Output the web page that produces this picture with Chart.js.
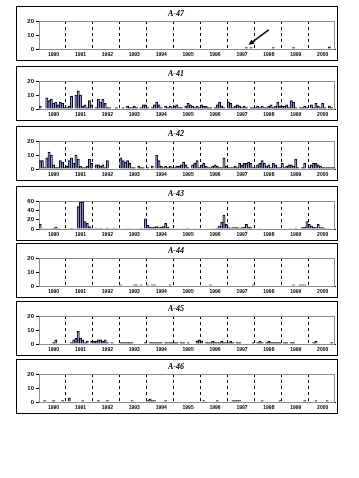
<!DOCTYPE html>
<html>
<head>
<meta charset="utf-8">
<script src="https://cdn.jsdelivr.net/npm/chart.js@4.4.1/dist/chart.umd.min.js"></script>
<style>
  body { margin: 0; background: #fff; width: 359px; height: 478px; position: relative; overflow: hidden; }
  .box { position: absolute; left: 16px; width: 322px; height: 55px; border: 1px solid #000; box-sizing: border-box; }
</style>
</head>
<body>
<div class="box" style="top:6px"><canvas id="c0"></canvas></div>
<div class="box" style="top:66px"><canvas id="c1"></canvas></div>
<div class="box" style="top:126px"><canvas id="c2"></canvas></div>
<div class="box" style="top:186px"><canvas id="c3"></canvas></div>
<div class="box" style="top:243px"><canvas id="c4"></canvas></div>
<div class="box" style="top:301px"><canvas id="c5"></canvas></div>
<div class="box" style="top:359px"><canvas id="c6"></canvas></div>
<script>
// one value per month, one row per year
const years = ['1990', '1991', '1992', '1993', '1994', '1995', '1996', '1997', '1998', '1999', '2000'];

const a47 = [
  0,0,0,0,0,0,0,0,0,0,0,0,
  0,0,0,0,0,0,0,0,0,0,0,0,
  0,0,0,0,0,0,0,0,0,0,0,0,
  0,0,0,0,0,0,0,0,0,0,0,0,
  0,0,0,0,0,0,0,0,0,0,0,0,
  0,0,0,0,0,0,0,0,0,0,0,0,
  0,0,0,0,0,0,0,0,0,0,0,0,
  0,0,0,0,0,0,0,0,1,0,1,0,
  0,0,0,0,0,0,0,0,1,0,0,0,
  0,0,0,0,0,1,0,0,0,0,0,0,
  0,0,0,0,0,0,0,0,0,1.5,0,0
];
const a41 = [
  2,0,0,8,6,7,4,5,3,5,4,1,
  1,2,9,0,10,13,10,2,3,1,6,3,
  0,1,7,5,7,4,1,1,0,0,1,0,
  0,1,0,2,1,1,2,1,0,1,3,3,
  1,0,1,3,5,3,1,0,2,1,2,1,
  2,3,1,1,0,2,4,3,2,1,2,1,
  3,2,2,1,1,0,1,3,5,2,1,0,
  5,4,1,2,3,2,1,2,1,0,1,1,
  1,2,1,2,1,1,2,3,1,2,5,2,
  2,2,3,1,6,5,1,0,1,1,2,1,
  0,3,1,4,2,1,4,1,0,2,1,0
];
const a42 = [
  6,6,1,8,12,10,3,1,1,6,5,1,
  2,6,8,4,10,7,2,1,1,2,7,4,
  0,3,3,2,3,1,6,0,0,0,0,0,
  8,6,5,6,4,1,1,0,2,1,1,0,
  1,0,2,0,10,6,2,1,2,1,2,1,
  1,2,2,3,5,3,1,0,3,4,6,1,
  3,4,2,1,1,2,3,2,1,1,8,2,
  1,1,1,2,1,4,3,4,4,5,4,1,
  1,3,4,6,4,2,3,1,4,3,1,1,
  4,1,2,3,3,2,7,1,0,1,4,0,
  1,3,4,4,3,2,1,1,1,1,1,1
];
const a43 = [
  10,1,1,1,1,1,2,4,2,1,0,0,
  1,1,2,1,1,48,57,58,16,12,5,2,
  1,2,1,2,1,1,2,1,1,2,1,1,
  0,0,1,1,1,1,0,1,0,2,1,22,
  8,4,3,4,5,3,4,5,12,4,1,1,
  0,1,0,0,1,1,2,0,0,1,0,1,
  0,0,0,0,0,1,1,2,6,15,30,10,
  3,2,3,3,3,2,3,4,10,4,3,1,
  0,0,1,0,0,0,0,0,0,0,0,0,
  0,0,0,1,1,0,2,0,1,3,4,16,
  10,6,4,3,10,3,3,2,1,1,0,0
];
const a44 = [
  0,0,0,0,0,0,0,0,0,0,0,0,
  0,0,0,0,0,0,0,0,0,0,0,0,
  0,0,0,0,0,0,0,0,0,0,0,0,
  0.8,0,0,0,0,0,0.8,0.8,0,0.8,0,0,
  0.8,0,0.8,0.8,0,0,0,0,0,0,0.8,0,
  0,0,0,0,0,0,0,0,0,0,0,0,
  0,0,0,0,0.8,0,0,0,0,0,0,0,
  0,0,0,0,0,0,0,0,0,0,0,0.8,
  0,0,0,0,0,0,0,0,0,0,0,0,
  0,0,0,0,0,0.8,0,0,0.8,0.8,0.8,0,
  0,0,0,0,0,0,0,0,0,0,0,0
];
const a45 = [
  0,0,0,0,0,0,1,3,0,0,0,0,
  0,0,1,3,4,9,4,3,1,2,0,2,
  2,2,3,3,2,3,1,0,1,0,0,0,
  1,1,1,1,1,1,0,0,0,0,0,1,
  0,1,1,1,1,1,1,0,1,1,1,1,
  1,1,0,1,1,0,1,0,0,0,2,3,
  2,0,1,1,1,2,1,1,1,2,1,1,
  1,2,1,0,1,1,0,0,0,0,0,1,
  0,1,2,1,0,1,2,1,1,1,1,1,
  0,1,1,0,1,1,0,0,0,0,0,0,
  0,0,1,2,0,0,0,0,0,0,1,0
];
const a46 = [
  0,0,1,0,0,0,1,0,0,0,1,0,
  0,3,0,0,0,0,0,1,0,0,0,0,
  0,0,1,0,0,0,1,0,0,0,0,0,
  0,0,0,0,0,1,0,0,0,0,0,0,
  1,2,1,1,0,0,0,0,1,0,0,0,
  0,0,0,0,0,0,0,0,0,0,0,0,
  0,1,0,0,0,0,0,1,0,0,0,0,
  0,0,1,1,1,1,0,0,0,0,0,0,
  0,0,0,1,0,0,0,0,0,0,0,1,
  0,0,0,0,0,0,0,0,0,0,1,0,
  0,0,0,1,0,0,0,0,1,0,0,0
];

const months = [];
years.forEach(y => { for (let m = 1; m <= 12; m++) months.push(y + '-' + m); });

// gray plot frame
const framePlugin = {
  id: 'frame',
  beforeDatasetsDraw(chart) {
    const { ctx, chartArea: a } = chart;
    ctx.save();
    ctx.strokeStyle = '#8c8c8c';
    ctx.lineWidth = 1;
    ctx.strokeRect(a.left + 0.5, a.top + 0.5, a.right - a.left - 1, a.bottom - a.top);
    ctx.restore();
  }
};

// arrow pointing at a bar
const arrowPlugin = {
  id: 'arrow',
  afterDatasetsDraw(chart, args, opts) {
    if (opts.index == null) return;
    const { ctx, scales: { x, y } } = chart;
    const tx = x.getPixelForValue(opts.index), ty = y.getPixelForValue(opts.value);
    const sx = tx + 20, sy = ty - 15;
    const ang = Math.atan2(ty - sy, tx - sx);
    ctx.save();
    ctx.strokeStyle = '#000';
    ctx.fillStyle = '#000';
    ctx.lineWidth = 1.5;
    ctx.beginPath();
    ctx.moveTo(sx, sy);
    ctx.lineTo(tx - 3 * Math.cos(ang), ty - 3 * Math.sin(ang));
    ctx.stroke();
    ctx.beginPath();
    ctx.moveTo(tx, ty);
    ctx.lineTo(tx - 6 * Math.cos(ang - 0.45), ty - 6 * Math.sin(ang - 0.45));
    ctx.lineTo(tx - 6 * Math.cos(ang + 0.45), ty - 6 * Math.sin(ang + 0.45));
    ctx.closePath();
    ctx.fill();
    ctx.restore();
  }
};

const makePanel = (id, title, values, yMax, yStep, arrow) => {
  new Chart(document.getElementById(id), {
    type: 'bar',
    data: {
      labels: months,
      datasets: [{
        data: values,
        backgroundColor: '#9999ff',
        borderColor: '#000',
        borderWidth: 1,
        borderSkipped: 'start',
        barPercentage: 1,
        categoryPercentage: 1
      }]
    },
    options: {
      responsive: true,
      maintainAspectRatio: false,
      animation: false,
      layout: { padding: { left: 0, right: 2, top: 0, bottom: 0 } },
      plugins: {
        legend: { display: false },
        tooltip: { enabled: false },
        title: {
          display: true,
          text: title,
          color: '#000',
          font: { family: 'Liberation Serif', size: 8, weight: 'bold', style: 'italic', lineHeight: 1 },
          padding: { top: 3, bottom: 3 }
        },
        arrow: arrow || {}
      },
      scales: {
        x: {
          grid: {
            offset: true,
            drawTicks: false,
            lineWidth: 1,
            color: ctx => (ctx.index > 0 && ctx.index % 12 === 0) ? '#000' : 'rgba(0,0,0,0)'
          },
          border: { display: true, color: '#000', dash: [3, 3] },
          ticks: {
            autoSkip: false,
            maxRotation: 0,
            padding: 3,
            color: '#000',
            font: { family: 'Arial', size: 5, weight: 'bold' },
            callback: (v, i) => i % 12 === 6 ? years[Math.floor(i / 12)] : ''
          },
          afterFit: s => { s.height = 11; }
        },
        y: {
          min: 0,
          max: yMax,
          grid: { drawOnChartArea: false, tickLength: 3, color: '#000' },
          border: { color: '#000' },
          ticks: {
            stepSize: yStep,
            autoSkip: false,
            padding: 2,
            color: '#000',
            font: { family: 'Arial', size: 6, weight: 'bold' }
          },
          afterFit: s => { s.width = 22; }
        }
      }
    },
    plugins: [framePlugin, arrowPlugin]
  });
};

makePanel('c0', 'A-47', a47, 20, 10, { index: 93, value: 3 });
makePanel('c1', 'A-41', a41, 20, 10);
makePanel('c2', 'A-42', a42, 20, 10);
makePanel('c3', 'A-43', a43, 60, 20);
makePanel('c4', 'A-44', a44, 20, 10);
makePanel('c5', 'A-45', a45, 20, 10);
makePanel('c6', 'A-46', a46, 20, 10);
</script>
</body>
</html>
